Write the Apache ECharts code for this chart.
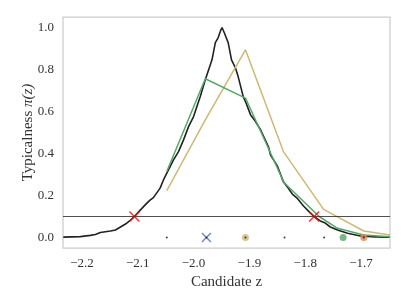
<!DOCTYPE html>
<html><head><meta charset="utf-8">
<script src="https://cdn.jsdelivr.net/npm/echarts@6/dist/echarts.min.js"></script>
<style>html,body{margin:0;padding:0;background:#fff}#c{width:407px;height:305px}</style>
</head><body><div id="c"></div>
<script>
// Empirical typicalness curve (black)
const blackZ  = [-2.2335,-2.203,-2.185,-2.176,-2.167,-2.149,-2.140,-2.131,-2.122,-2.113,-2.106,-2.096,-2.085,-2.078,-2.072,-2.060,-2.054,-2.045,-2.036,-2.027,-2.018,-2.009,-2.000,-1.988,-1.979,-1.967,-1.961,-1.956,-1.951,-1.949,-1.945,-1.938,-1.932,-1.925,-1.920,-1.911,-1.906,-1.898,-1.891,-1.880,-1.866,-1.862,-1.850,-1.839,-1.832,-1.823,-1.814,-1.803,-1.791,-1.784,-1.773,-1.764,-1.755,-1.742,-1.724,-1.701,-1.674,-1.649];
const blackPi = [0.002,0.004,0.010,0.014,0.024,0.031,0.036,0.050,0.064,0.083,0.100,0.129,0.160,0.178,0.190,0.235,0.274,0.322,0.370,0.409,0.465,0.528,0.576,0.671,0.751,0.846,0.928,0.951,0.989,1.000,0.975,0.928,0.846,0.808,0.765,0.671,0.641,0.585,0.560,0.513,0.433,0.393,0.341,0.265,0.241,0.207,0.186,0.150,0.117,0.100,0.079,0.069,0.050,0.036,0.020,0.007,0.003,0.0015];
// Green approximation
const greenZ  = [-2.048,-1.979,-1.907,-1.838,-1.775,-1.742,-1.695,-1.648];
const greenPi = [0.314,0.756,0.664,0.262,0.100,0.044,0.012,0.003];
// Gold approximation
const goldZ  = [-2.048,-1.979,-1.907,-1.839,-1.767,-1.695,-1.648];
const goldPi = [0.223,0.560,0.894,0.409,0.134,0.031,0.012];
// Threshold and crossings
const threshold = 0.1;
const crossZ = [-2.106,-1.784];
// Candidate grid (rug) and special candidates on the baseline
const gridZ = [-2.048,-1.977,-1.907,-1.837,-1.766,-1.695];
const blueZ = [-1.977];
const goldDotZ = [-1.907];
const greenDotZ = [-1.732];
const orangeDotZ = [-1.695];
// Axis settings
const xTicks = [-2.2,-2.1,-2.0,-1.9,-1.8,-1.7];
const yTicks = [0,0.2,0.4,0.6,0.8,1.0];
const xRange = [-2.234,-1.648];
const yRange = [-0.05,1.05];

const pairs = (xs, ys) => xs.map((x,i)=>[x, ys[i]]);
const onBase = xs => xs.map(x=>[x,0]);
const X = 'path://M0,0L10,10M10,0L0,10';
const font = 'Liberation Serif';

const chart = echarts.init(document.getElementById('c'), null, {renderer:'canvas'});
chart.setOption({
  animation:false,
  backgroundColor:'#fff',
  grid:{left:63,right:17,top:17,bottom:57,show:true,borderColor:'#cccccc',borderWidth:1.25,backgroundColor:'transparent'},
  xAxis:{type:'value',min:xRange[0],max:xRange[1],
    name:'Candidate z',nameLocation:'middle',nameGap:27,nameMoveOverlap:false,
    nameTextStyle:{fontFamily:font,fontSize:15,color:'#333'},
    axisLine:{show:false},axisTick:{show:false},splitLine:{show:false},
    axisLabel:{customValues:xTicks,margin:9,fontFamily:font,fontSize:13,color:'#333',
      formatter:v=>(v<0?'\u2212':'')+Math.abs(v).toFixed(1)}},
  yAxis:{type:'value',min:yRange[0],max:yRange[1],
    name:'{a|Typicalness }{b|π(z)}',nameLocation:'middle',nameGap:27,nameRotate:90,nameMoveOverlap:false,
    nameTextStyle:{rich:{a:{fontFamily:font,fontSize:15,color:'#333'},b:{fontFamily:font,fontSize:15,fontStyle:'italic',color:'#333'}}},
    axisLine:{show:false},axisTick:{show:false},splitLine:{show:false},
    axisLabel:{customValues:yTicks,margin:9,fontFamily:font,fontSize:13,color:'#333',
      formatter:v=>v.toFixed(1)}},
  series:[
    {type:'line',data:pairs(blackZ,blackPi),showSymbol:false,lineStyle:{color:'#222',width:1.6},z:2,
      markLine:{silent:true,symbol:'none',label:{show:false},lineStyle:{color:'#222',width:0.8,type:'solid'},data:[{yAxis:threshold}]}},
    {type:'line',data:pairs(goldZ,goldPi),showSymbol:false,lineStyle:{color:'#ccb974',width:1.5},z:3},
    {type:'line',data:pairs(greenZ,greenPi),showSymbol:false,lineStyle:{color:'#55a868',width:1.5},z:4},
    {type:'scatter',data:pairs(crossZ,crossZ.map(()=>threshold)),symbol:X,symbolSize:10,itemStyle:{color:'none',borderColor:'#ff0000',borderWidth:1.5},z:6},
    {type:'scatter',data:onBase(blueZ),symbol:X,symbolSize:9,itemStyle:{color:'none',borderColor:'#4c72b0',borderWidth:1.5},z:5},
    {type:'scatter',data:onBase(goldDotZ),symbol:'circle',symbolSize:7,itemStyle:{color:'#ccb974'},z:5},
    {type:'scatter',data:onBase(greenDotZ),symbol:'circle',symbolSize:7,itemStyle:{color:'#55a868'},z:5},
    {type:'scatter',data:onBase(orangeDotZ),symbol:'circle',symbolSize:7,itemStyle:{color:'#dd8452'},z:5},
    {type:'scatter',data:onBase(gridZ),symbol:'circle',symbolSize:2,itemStyle:{color:'#111'},z:7}
  ]
});
</script></body></html>
